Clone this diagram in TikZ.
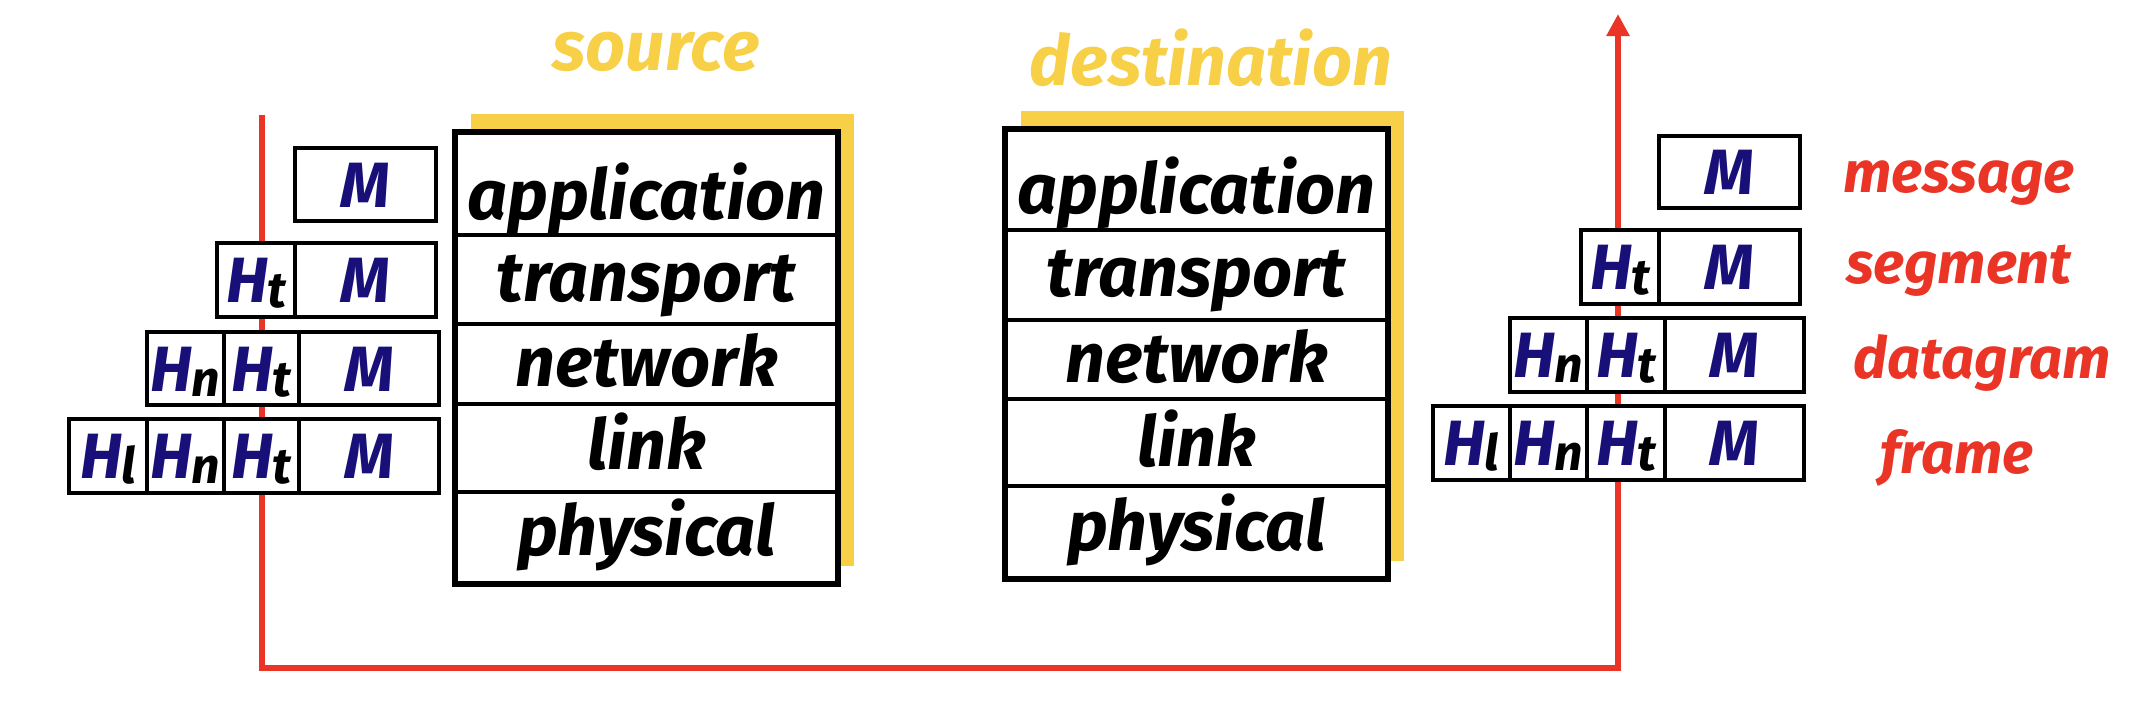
\documentclass[tikz,border=0pt]{standalone}
\usepackage{fontspec}
\setmainfont{Fira Sans}
\usetikzlibrary{arrows.meta}
\definecolor{navy}{RGB}{24,16,120}
\definecolor{redl}{RGB}{233,52,38}
\definecolor{yel}{RGB}{247,208,72}
\newcommand{\fsz}[1]{\fontsize{#1}{#1}\selectfont}
\newcommand{\Hsub}[1]{H\kern-1pt\raisebox{-5pt}{\fsz{50}\textcolor{black}{#1}}}
\newcommand{\cellnode}[6]{\node[cell, minimum width={#4-#2}, minimum height={#5-#3}] (#1) at ({(#2+#4)/2},{(#3+#5)/2}) {#6};}
\newcommand{\layernode}[5]{\node[layer, minimum width={#4-#2}, minimum height={#5-#3}] (#1) at ({(#2+#4)/2},{(#3+#5)/2}) {};}
\begin{document}
\begin{tikzpicture}[x=1pt,y=-1pt,
  cell/.style={draw, line width=4pt, fill=white, inner sep=0pt, text=navy,
    font=\bfseries\itshape\fsz{64}, text height=45pt, text depth=0pt},
  layer/.style={draw, line width=4pt, fill=white, inner sep=0pt},
  stackbox/.style={draw, line width=6pt, inner sep=0pt},
  shadow/.style={fill=yel, draw=none, inner sep=0pt},
  layertext/.style={anchor=base, font=\bfseries\itshape\fsz{70}, inner sep=0pt},
  title/.style={anchor=base, font=\bfseries\itshape\fsz{70}, text=yel, inner sep=0pt},
  pdu/.style={anchor=base, font=\bfseries\itshape\fsz{58}, text=redl, inner sep=0pt},
  flow/.style={draw=redl, line width=6.5pt, line join=miter}]
\useasboundingbox (0,0) rectangle (2130,702);

% red flow path
\coordinate (p0) at (262,115);
\coordinate (p1) at (262,668);
\coordinate (p2) at (1618,668);
\coordinate (p3) at (1618,14);
\draw[flow, -{Triangle[length=22pt,width=22pt]}] (p0) -- (p1) -- (p2) -- (p3);

% titles
\node[title] (srct) at (656,70) {source};
\node[title] (dstt) at (1211,85) {destination};

% source stack
\node[shadow, minimum width=383, minimum height=452] (sshadow) at (662,340) {};
\layernode{sapp}{455}{132}{838}{235}
\layernode{strn}{455}{235}{838}{324}
\layernode{snet}{455}{324}{838}{404}
\layernode{slnk}{455}{404}{838}{492}
\layernode{sphy}{455}{492}{838}{584}
\node[stackbox, minimum width=383, minimum height=452] (sbox) at (646.5,358) {};
\node[layertext] (sappt) at (646.5,219) {application};
\node[layertext] (strnt) at (646.5,301) {transport};
\node[layertext] (snett) at (646.5,386) {network};
\node[layertext] (slnkt) at (646.5,469) {link};
\node[layertext] (sphyt) at (646.5,555) {physical};

% destination stack
\node[shadow, minimum width=383, minimum height=450] (dshadow) at (1212,336) {};
\layernode{dapp}{1005}{129}{1388}{230}
\layernode{dtrn}{1005}{230}{1388}{320}
\layernode{dnet}{1005}{320}{1388}{399}
\layernode{dlnk}{1005}{399}{1388}{486}
\layernode{dphy}{1005}{486}{1388}{579}
\node[stackbox, minimum width=383, minimum height=450] (dbox) at (1196.5,354) {};
\node[layertext] (dappt) at (1196.5,213) {application};
\node[layertext] (dtrnt) at (1196.5,296) {transport};
\node[layertext] (dnett) at (1196.5,382) {network};
\node[layertext] (dlnkt) at (1196.5,466) {link};
\node[layertext] (dphyt) at (1196.5,550) {physical};

% left packets
\cellnode{l1m}{295}{148}{436}{221}{M}
\cellnode{l2t}{217}{243}{295}{317}{\Hsub{t}}
\cellnode{l2m}{295}{243}{436}{317}{M}
\cellnode{l3n}{147}{332}{224}{405}{\Hsub{n}}
\cellnode{l3t}{224}{332}{299}{405}{\Hsub{t}}
\cellnode{l3m}{299}{332}{439}{405}{M}
\cellnode{l4l}{69}{419}{147}{493}{\Hsub{l}}
\cellnode{l4n}{147}{419}{224}{493}{\Hsub{n}}
\cellnode{l4t}{224}{419}{299}{493}{\Hsub{t}}
\cellnode{l4m}{299}{419}{439}{493}{M}

% right packets
\cellnode{r1m}{1659}{136}{1800}{208}{M}
\cellnode{r2t}{1581}{230}{1659}{304}{\Hsub{t}}
\cellnode{r2m}{1659}{230}{1800}{304}{M}
\cellnode{r3n}{1510}{318}{1587}{392}{\Hsub{n}}
\cellnode{r3t}{1587}{318}{1665}{392}{\Hsub{t}}
\cellnode{r3m}{1665}{318}{1804}{392}{M}
\cellnode{r4l}{1433}{406}{1510}{480}{\Hsub{l}}
\cellnode{r4n}{1510}{406}{1587}{480}{\Hsub{n}}
\cellnode{r4t}{1587}{406}{1665}{480}{\Hsub{t}}
\cellnode{r4m}{1665}{406}{1804}{480}{M}

% PDU names
\node[pdu] (msg) at (1959,192) {message};
\node[pdu] (seg) at (1959,283) {segment};
\node[pdu] (dgm) at (1982,378) {datagram};
\node[pdu] (frm) at (1957,473) {frame};
\end{tikzpicture}
\end{document}
